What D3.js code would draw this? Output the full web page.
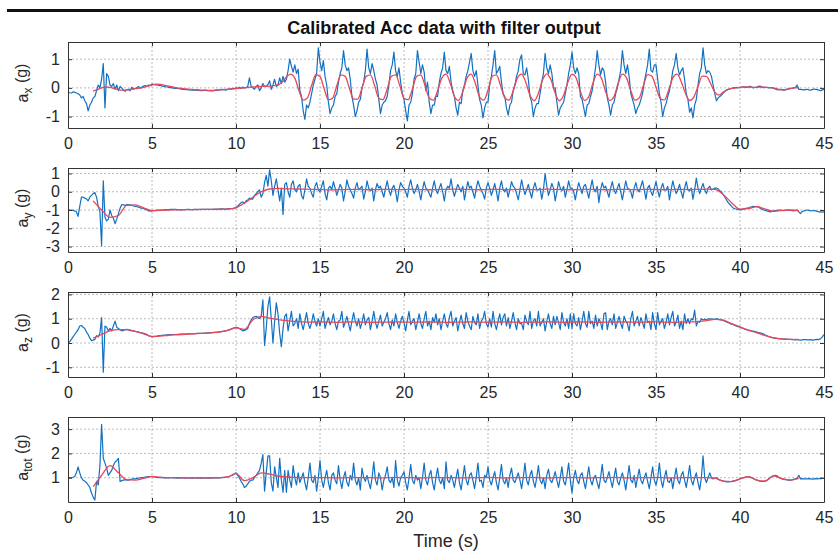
<!DOCTYPE html>
<html>
<head>
<meta charset="utf-8">
<script src="https://cdnjs.cloudflare.com/ajax/libs/d3/7.8.5/d3.min.js"></script>
<style>
body{margin:0;background:#fff;}
text{font-family:"Liberation Sans",Arial,sans-serif;fill:#262626;}
</style>
</head>
<body>
<div id="chart"></div>
<script>
// time base (s): raw samples every 0.1 s, filter output from 1.5 s on
var rawStep = 0.1;
var filtStart = 1.5;
var axFiltStep = 0.25, filtStep = 0.5;

var xTicks = [0, 5, 10, 15, 20, 25, 30, 35, 40, 45];
var axTicks = [-1, 0, 1];
var ayTicks = [-3, -2, -1, 0, 1];
var azTicks = [-1, 0, 1, 2];
var atTicks = [1, 2, 3];

// a_x raw (one row = 1 s)
var axRaw = [
-0.15,-0.17,-0.18,-0.14,-0.15,-0.18,-0.2,-0.25,-0.35,-0.3,
-0.45,-0.55,-0.8,-0.6,-0.5,-0.35,-0.3,-0.1,0.1,0.0,
0.3,0.85,-0.7,0.5,0.4,0.1,0.05,0.15,-0.05,0.1,
-0.1,0.05,0.0,-0.08,-0.12,-0.06,-0.05,-0.1,0.02,-0.04,
-0.02,0.0,0.05,-0.01,0.03,0.06,0.08,0.05,0.1,0.09,
0.13,0.12,0.1,0.11,0.08,0.09,0.06,0.05,0.04,0.03,
0.02,0.01,0.0,-0.01,-0.02,-0.02,-0.03,-0.04,-0.05,-0.05,
-0.06,-0.06,-0.07,-0.07,-0.08,-0.08,-0.08,-0.09,-0.09,-0.1,
-0.1,-0.09,-0.09,-0.1,-0.1,-0.11,-0.11,-0.1,-0.08,-0.09,
-0.07,-0.06,-0.05,-0.06,-0.08,-0.05,-0.03,-0.04,-0.02,-0.03,
0.0,-0.02,0.02,-0.02,0.03,0.0,0.01,0.05,0.35,0.05,
0.0,-0.05,0.05,0.1,-0.1,0.0,0.15,0.05,0.05,0.12,
0.25,-0.05,0.1,0.3,0.05,0.1,0.35,0.15,0.4,0.2,
0.3,0.6,1.0,0.75,0.55,0.8,0.5,0.65,-0.1,-0.3,
-0.8,-1.1,-0.6,-0.7,-0.5,-0.2,0.1,0.3,0.5,1.4,
0.9,0.6,0.95,0.4,0.1,-0.5,-0.9,-0.7,-0.6,-0.3,
-0.2,0.2,0.5,0.7,1.3,0.8,0.6,0.7,0.3,-0.3,
-0.6,-1.0,-0.8,-0.5,-0.4,0.0,0.2,0.6,1.35,0.7,
0.5,0.85,0.6,0.3,0.1,-0.4,-0.9,-0.6,-0.5,-0.45,
-0.3,0.1,0.6,0.8,1.25,0.6,0.4,0.7,0.2,-0.2,
-0.4,-0.8,-1.15,-0.6,-0.5,-0.2,0.3,0.5,1.3,0.9,
0.5,0.8,0.55,-0.1,0.2,-0.5,-0.9,-0.6,-0.6,-0.3,
-0.3,0.2,0.5,0.7,1.25,0.6,0.5,0.75,0.2,-0.1,
-0.3,-0.7,-0.95,-0.5,-0.55,-0.1,0.1,0.4,0.6,0.9,
1.2,0.6,0.4,0.6,0.1,-0.4,-0.6,-1.05,-0.7,-0.5,
-0.5,0.1,0.4,0.8,1.3,0.5,0.6,0.75,0.2,-0.2,
-0.3,-0.7,-0.95,-0.6,-0.5,-0.1,0.1,0.4,0.6,1.0,
1.15,0.5,0.45,0.7,0.3,-0.3,-0.5,-1.0,-0.7,-0.55,
-0.55,-0.2,0.2,0.5,1.2,0.7,0.5,0.8,0.5,0.0,
0.0,-0.5,-0.95,-0.7,-0.6,-0.5,-0.2,0.1,0.5,0.8,
1.25,0.7,0.5,0.7,0.5,-0.3,-0.4,-0.7,-1.0,-0.6,
-0.55,-0.3,-0.1,0.3,0.7,1.3,0.8,0.45,0.7,0.6,
0.2,-0.35,-0.6,-0.95,-0.6,-0.5,-0.2,0.0,0.3,0.6,
1.3,0.8,0.5,0.8,0.4,-0.2,-0.4,-0.6,-0.9,-0.7,
-0.6,-0.4,-0.2,0.2,0.5,0.8,1.35,0.6,0.55,0.8,
0.8,0.3,-0.2,-0.5,-1.0,-0.7,-0.55,-0.3,-0.1,0.2,
0.6,0.8,1.2,0.7,0.45,0.6,0.7,0.3,-0.2,-0.4,
-0.85,-0.7,-1.05,-0.6,-0.4,0.1,0.5,0.7,1.4,0.8,
0.5,0.6,0.55,0.4,0.1,-0.2,-0.45,-0.35,-0.3,-0.25,
-0.18,-0.12,-0.08,-0.06,-0.03,-0.02,0.0,0.01,0.02,0.01,
0.01,0.03,0.04,0.02,0.02,0.04,0.05,0.03,0.0,0.02,
0.03,0.05,0.06,0.03,0.01,0.02,0.02,0.01,0.0,0.01,
-0.02,-0.04,-0.06,-0.07,-0.05,-0.06,-0.08,-0.07,-0.04,-0.03,
-0.02,-0.01,0.0,0.02,0.1,-0.05,-0.05,-0.06,-0.07,-0.06,
-0.05,-0.07,-0.08,-0.06,-0.04,-0.05,-0.06,-0.08,-0.1,-0.07,
-0.05
];

// a_x filter output (one row = 1 s, from 1.5 s)
var axFilt = [
-0.11,-0.06,0.0,0.03,
0.02,-0.02,-0.06,-0.08,
-0.07,-0.05,-0.03,-0.01,
0.02,0.06,0.1,0.13,
0.12,0.09,0.06,0.03,
0.0,-0.02,-0.04,-0.05,
-0.06,-0.07,-0.08,-0.08,
-0.09,-0.08,-0.07,-0.06,
-0.05,-0.04,-0.03,-0.01,
0.0,0.02,0.03,0.04,
0.05,0.05,0.06,0.08,
0.1,0.2,0.38,0.48,
0.34,-0.10,-0.43,-0.35,
0.08,0.46,0.40,-0.04,
-0.41,-0.36,0.08,0.45,
0.40,-0.01,-0.39,-0.39,
-0.01,0.40,0.45,0.08,
-0.36,-0.41,-0.04,0.40,
0.45,0.08,-0.36,-0.41,
-0.04,0.40,0.45,0.08,
-0.35,-0.43,-0.10,0.34,
0.48,0.17,-0.30,-0.44,
-0.13,0.34,0.48,0.15,
-0.32,-0.43,-0.08,0.40,
0.45,0.08,-0.35,-0.43,
-0.10,0.34,0.48,0.19,
-0.26,-0.45,-0.19,0.28,
0.49,0.28,-0.19,-0.45,
-0.26,0.19,0.48,0.34,
-0.13,-0.44,-0.30,0.17,
0.48,0.34,-0.13,-0.44,
-0.30,0.17,0.48,0.34,
-0.10,-0.43,-0.35,0.08,
0.46,0.41,0.02,-0.37,
-0.42,-0.08,0.35,0.48,
0.22,-0.19,-0.44,-0.32,
0.04,0.41,0.40,0.15,
-0.15,-0.25,-0.15,-0.06,
-0.02,0.0,0.02,0.03,
0.03,0.02,0.02,0.03,
0.02,0.01,0.0,-0.04,
-0.07,-0.06,-0.03,0.0,
0.01
];

var ayRaw = [
-1.0,-1.0,-1.0,-1.02,-1.05,-1.1,-1.35,-0.8,-0.3,-0.3,
-0.35,-0.4,-0.5,-0.3,-0.2,-0.1,-0.05,-0.3,-0.8,-1.1,
-2.95,0.6,-1.4,-1.6,-1.5,-1.0,-1.3,-1.45,-1.75,-1.5,
-1.2,-0.9,-0.7,-0.72,-0.75,-0.7,-0.72,-0.7,-0.75,-0.78,
-0.8,-0.82,-0.85,-0.88,-0.9,-0.93,-0.95,-1.0,-1.05,-1.06,
-1.05,-1.04,-1.02,-1.01,-1.0,-1.0,-1.0,-0.99,-0.98,-0.98,
-0.98,-0.97,-0.97,-0.97,-0.97,-0.98,-0.98,-0.99,-0.99,-0.98,
-0.98,-0.97,-0.97,-0.98,-0.98,-0.97,-0.97,-0.96,-0.96,-0.97,
-0.97,-0.96,-0.96,-0.97,-0.97,-0.96,-0.96,-0.95,-0.95,-0.95,
-0.95,-0.94,-0.94,-0.95,-0.95,-0.93,-0.93,-0.92,-0.92,-0.9,
-0.85,-0.8,-0.7,-0.6,-0.55,-0.65,-0.5,-0.45,-0.35,-0.4,
-0.4,-0.2,-0.1,0.0,0.1,-0.3,-0.1,0.5,0.9,0.3,
1.2,0.6,-0.2,0.3,0.7,0.1,-0.5,0.2,-1.25,0.4,
0.5,0.0,-0.3,0.4,0.6,0.1,0.0,0.3,0.4,-0.2,
-0.4,0.1,0.7,0.3,0.2,-0.1,-0.3,0.3,0.5,0.1,
0.0,0.3,0.6,-0.1,-0.45,0.2,0.3,0.1,0.55,0.2,
-0.2,0.1,0.4,0.2,-0.5,0.0,0.65,0.3,0.1,-0.1,
-0.35,0.2,0.5,0.1,0.2,0.3,-0.4,0.0,0.6,0.2,
0.05,0.2,-0.5,0.1,0.45,0.2,0.3,0.0,-0.3,0.2,
0.6,0.1,-0.2,0.2,0.35,0.0,-0.55,0.1,0.5,0.3,
0.2,0.0,-0.3,0.3,0.65,0.2,-0.1,0.1,0.4,0.0,
-0.45,0.1,0.55,0.2,0.1,-0.1,-0.3,0.2,0.6,0.1,
-0.1,0.2,0.45,0.0,-0.5,0.1,0.3,0.2,0.7,0.1,
-0.25,0.1,0.4,0.2,0.0,0.3,-0.45,0.1,0.55,0.2,
0.3,0.0,-0.35,0.2,0.6,0.3,0.1,-0.1,-0.4,0.2,
0.5,0.2,-0.2,0.1,0.45,0.0,-0.5,0.2,0.6,0.1,
0.0,0.2,-0.3,0.1,0.55,0.3,0.2,-0.1,-0.45,0.1,
0.65,0.2,-0.15,0.1,0.4,0.0,-0.35,0.2,0.5,0.1,
0.1,0.2,-0.4,0.1,1.0,0.3,-0.2,0.1,0.45,0.2,
-0.5,0.0,0.55,0.2,0.05,0.3,-0.3,0.1,0.6,0.2,
0.2,0.0,-0.45,0.1,0.5,0.2,-0.1,0.3,0.4,0.0,
-0.35,0.2,0.65,0.1,0.0,0.3,-0.6,0.1,0.5,0.2,
0.3,0.0,-0.3,0.2,0.55,0.1,-0.1,0.2,0.45,0.0,
-0.45,0.1,0.6,0.2,0.15,0.0,-0.35,0.2,0.5,0.1,
0.0,0.3,0.6,0.1,-0.4,0.2,0.35,0.0,-0.2,0.2,
0.55,0.1,-0.3,0.2,0.45,0.1,0.1,0.3,-0.45,0.1,
0.6,0.2,-0.1,0.1,0.4,0.0,-0.35,0.2,0.55,0.1,
0.05,0.2,-0.4,0.1,0.75,0.2,-0.1,0.2,0.45,0.1,
-0.1,0.2,0.3,0.1,0.15,0.2,0.2,0.15,0.05,0.0,
-0.15,-0.3,-0.45,-0.6,-0.7,-0.8,-0.9,-0.93,-0.95,-0.97,
-1.0,-0.98,-0.95,-0.92,-0.9,-0.88,-0.85,-0.82,-0.8,-0.82,
-0.82,-0.85,-0.9,-0.95,-1.0,-1.02,-1.05,-1.08,-1.1,-1.08,
-1.05,-1.03,-1.02,-1.0,-1.0,-1.02,-1.03,-1.02,-1.0,-1.0,
-1.02,-1.03,-1.05,-1.02,-1.0,-1.1,-1.2,-1.08,-1.05,-1.03,
-1.0,-1.02,-1.05,-1.04,-1.03,-1.05,-1.08,-1.1,-1.1,-1.12,
-1.1
];

// one row = 2 s, from 1.5 s
var ayFilt = [
-0.5,-1.0,-1.4,-1.3,
-0.75,-0.72,-0.88,-1.03,
-1.02,-1.0,-0.99,-0.98,
-0.98,-0.97,-0.97,-0.96,
-0.95,-0.88,-0.62,-0.3,
0.0,0.15,0.18,0.16,
0.15,0.14,0.13,0.12,
0.1,0.11,0.12,0.13,
0.12,0.11,0.12,0.13,
0.12,0.12,0.13,0.12,
0.11,0.12,0.13,0.14,
0.13,0.12,0.11,0.12,
0.13,0.12,0.12,0.13,
0.12,0.12,0.14,0.13,
0.12,0.11,0.12,0.13,
0.12,0.11,0.12,0.13,
0.12,0.12,0.13,0.12,
0.11,0.12,0.13,0.12,
0.13,0.14,0.13,-0.15,
-0.6,-0.95,-0.93,-0.82,
-0.95,-1.07,-1.02,-1.0,
-1.03
];

var azRaw = [
0.0,0.05,0.15,0.25,0.35,0.45,0.55,0.7,0.72,0.65,
0.6,0.45,0.35,0.2,0.1,0.12,0.15,0.3,0.25,0.4,
1.05,-1.2,0.7,0.65,0.5,0.6,0.5,0.7,0.9,0.65,
0.6,0.55,0.5,0.52,0.55,0.56,0.54,0.52,0.5,0.5,
0.48,0.47,0.45,0.43,0.42,0.4,0.38,0.35,0.3,0.28,
0.25,0.26,0.27,0.28,0.3,0.31,0.32,0.33,0.33,0.34,
0.34,0.35,0.35,0.35,0.35,0.36,0.36,0.37,0.37,0.37,
0.37,0.38,0.38,0.38,0.38,0.39,0.39,0.4,0.4,0.4,
0.4,0.41,0.41,0.42,0.42,0.43,0.43,0.44,0.44,0.45,
0.46,0.47,0.48,0.49,0.5,0.52,0.55,0.57,0.6,0.62,
0.65,0.63,0.6,0.55,0.5,0.52,0.55,0.6,0.8,0.95,
1.05,1.08,1.1,1.05,1.0,1.1,1.78,-0.1,0.6,1.5,
1.9,1.0,0.0,0.9,1.65,1.2,0.4,-0.15,0.6,1.1,
1.2,0.5,0.9,1.3,0.7,0.8,1.0,0.6,1.2,0.8,
0.55,0.9,1.25,0.8,0.6,0.85,1.2,0.9,0.7,1.0,
0.7,1.0,1.3,0.6,0.85,1.05,0.75,0.9,1.2,0.8,
0.55,0.9,0.95,1.3,0.65,0.85,1.1,0.8,0.5,0.9,
1.25,0.9,0.7,1.0,0.6,0.85,1.2,0.75,0.95,1.05,
0.55,0.9,1.3,0.85,0.6,0.9,1.15,0.7,0.85,1.0,
1.25,0.8,0.55,0.95,0.7,1.2,0.85,0.6,0.9,1.1,
0.85,0.5,0.95,1.3,0.75,0.9,1.0,0.55,0.85,1.2,
0.8,0.6,1.0,1.3,0.7,0.9,0.55,1.05,0.85,1.2,
0.75,1.0,0.55,0.9,1.2,0.8,0.65,1.05,1.3,0.7,
0.9,1.05,0.5,0.85,1.15,0.8,0.6,1.25,0.9,0.7,
0.55,1.1,0.85,0.75,1.2,0.6,0.9,1.0,1.3,0.8,
0.65,1.0,0.65,1.3,0.8,0.55,0.9,1.2,0.75,1.05,
1.2,0.7,1.05,0.6,0.9,1.25,0.85,0.55,1.0,0.8,
0.8,0.55,1.15,0.9,0.75,1.3,0.6,0.9,1.0,0.7,
1.3,0.7,0.85,1.0,0.5,0.9,1.2,0.8,0.6,1.1,
0.75,1.1,0.85,0.55,1.25,0.85,0.7,1.0,0.6,1.2,
0.6,1.2,0.8,0.7,1.05,0.55,0.9,1.3,0.8,0.65,
1.3,0.8,0.9,0.6,1.15,0.7,1.0,0.85,0.55,1.2,
1.25,0.55,0.9,1.0,0.75,1.2,0.6,0.85,1.1,0.8,
0.6,1.1,0.9,0.8,0.5,1.0,1.3,0.7,0.9,1.1,
0.7,1.05,0.85,0.6,1.2,0.85,0.9,0.55,1.25,0.8,
0.55,1.25,0.75,0.9,1.0,0.6,0.85,1.2,0.75,1.05,
1.3,0.7,0.85,1.15,0.6,0.9,0.55,1.2,0.8,1.0,
0.8,1.0,0.95,1.35,0.7,0.9,0.85,1.0,0.95,0.98,
0.95,1.0,0.98,1.0,0.97,0.98,1.0,0.98,0.96,0.95,
0.93,0.9,0.87,0.84,0.8,0.78,0.75,0.72,0.69,0.67,
0.65,0.62,0.6,0.57,0.55,0.53,0.52,0.5,0.49,0.47,
0.45,0.43,0.42,0.4,0.37,0.33,0.3,0.27,0.24,0.22,
0.21,0.2,0.19,0.18,0.17,0.17,0.16,0.16,0.15,0.15,
0.15,0.14,0.14,0.13,0.15,0.13,0.12,0.13,0.14,0.14,
0.13,0.13,0.14,0.12,0.13,0.14,0.15,0.14,0.18,0.25,
0.35
];

var azFilt = [
0.2,0.35,0.5,0.55,
0.55,0.48,0.38,0.27,
0.28,0.32,0.34,0.36,
0.38,0.4,0.42,0.45,
0.52,0.62,0.56,0.95,
1.1,1.02,0.96,0.92,
0.89,0.87,0.86,0.87,
0.86,0.85,0.86,0.87,
0.86,0.85,0.86,0.86,
0.87,0.86,0.85,0.86,
0.87,0.86,0.85,0.86,
0.86,0.87,0.86,0.85,
0.86,0.87,0.86,0.85,
0.86,0.86,0.87,0.86,
0.85,0.86,0.87,0.86,
0.85,0.86,0.86,0.87,
0.86,0.85,0.86,0.87,
0.86,0.85,0.86,0.87,
0.88,0.92,0.97,0.94,
0.8,0.66,0.52,0.42,
0.3,0.21,0.17,0.15,
0.14
];

var atRaw = [
1.0,1.0,1.0,1.02,1.05,1.2,1.45,1.2,1.0,0.9,
0.85,0.8,0.7,0.6,0.37,0.2,0.08,0.85,0.7,1.5,
3.2,1.8,1.6,1.4,1.1,1.2,1.3,1.5,1.65,1.7,
1.8,0.85,0.88,0.9,0.92,0.9,0.9,0.92,0.94,0.95,
0.95,0.97,0.98,1.0,1.0,1.02,1.03,1.04,1.05,1.05,
1.05,1.04,1.02,1.01,1.0,1.0,1.0,0.99,0.99,0.99,
0.99,1.0,1.0,0.99,0.99,0.98,0.98,0.99,0.99,0.99,
0.98,0.99,0.99,0.98,0.98,0.99,0.99,0.98,0.98,0.99,
0.98,0.99,0.99,0.98,0.98,0.98,0.99,0.99,0.99,1.0,
0.99,1.0,1.0,1.01,1.02,1.03,1.05,1.08,1.1,1.15,
1.2,1.1,1.0,0.85,0.75,0.6,0.65,0.75,0.85,0.9,
0.9,1.0,1.1,1.2,1.3,1.6,1.95,0.45,1.2,1.9,
1.9,0.8,0.45,1.45,1.0,0.6,1.8,0.9,0.4,1.3,
0.4,1.3,0.9,0.6,1.5,1.0,0.7,1.2,0.8,1.0,
1.2,0.8,0.5,1.0,1.6,0.9,0.8,1.1,0.45,1.0,
1.7,0.9,0.6,1.0,1.3,0.8,0.5,1.1,1.2,0.9,
0.75,1.5,0.9,0.55,1.0,1.25,0.8,0.65,1.1,0.9,
1.6,0.9,0.7,1.0,0.5,1.4,1.0,0.85,1.1,0.8,
0.55,1.0,1.65,0.9,0.7,1.2,1.0,0.5,0.9,1.1,
1.45,0.9,0.8,1.0,0.6,1.7,0.9,0.65,1.0,1.1,
1.25,0.8,0.5,1.0,1.55,0.9,0.75,1.1,0.9,1.0,
0.55,1.0,1.6,0.9,0.7,1.1,1.3,0.8,0.5,1.0,
1.4,0.9,0.75,1.0,0.55,1.65,0.9,0.8,1.1,0.9,
0.6,1.0,1.35,0.8,0.5,1.0,1.5,0.9,0.7,1.1,
1.2,0.9,0.55,1.0,1.6,0.85,0.9,0.6,1.1,1.0,
1.45,0.9,0.7,1.0,1.25,0.8,0.5,1.0,1.55,0.9,
0.75,1.0,0.6,1.1,1.4,0.9,0.8,1.0,1.2,0.9,
0.55,1.0,1.6,0.9,0.7,1.1,1.3,0.85,0.6,1.0,
1.5,0.9,0.75,1.0,0.55,1.1,1.35,0.9,0.8,1.0,
1.25,0.9,0.6,1.0,1.45,0.85,0.7,1.1,1.6,0.9,
0.37,1.0,1.3,0.9,0.75,1.1,1.2,0.85,0.55,1.0,
1.45,0.9,0.7,1.0,1.1,0.8,0.55,1.0,1.55,0.9,
0.8,1.0,1.25,0.9,0.6,1.0,1.4,0.85,0.7,1.0,
1.2,0.9,0.5,1.0,1.5,0.9,0.8,1.1,0.6,1.0,
1.35,0.9,0.75,1.0,1.2,0.85,0.55,1.0,1.45,0.9,
0.7,1.0,1.6,0.9,0.6,1.0,1.3,0.85,0.8,1.0,
0.55,1.0,1.4,0.9,0.75,1.1,1.25,0.9,0.6,1.0,
1.5,0.9,0.7,1.0,1.2,0.8,0.5,1.0,1.9,1.0,
0.8,1.0,1.2,1.0,0.95,0.98,1.0,0.95,0.9,0.88,
0.86,0.85,0.83,0.83,0.84,0.85,0.87,0.88,0.9,0.92,
0.96,0.98,1.0,1.02,1.04,1.04,1.03,1.0,0.96,0.93,
0.9,0.88,0.86,0.85,0.85,0.86,0.9,0.95,1.0,1.05,
1.08,1.1,1.08,1.02,0.98,0.95,0.93,0.92,0.91,0.9,
0.9,0.91,0.93,0.95,0.97,1.1,0.95,0.96,0.95,0.95,
0.95,0.96,0.95,0.94,0.95,0.96,0.95,0.96,0.96,0.97,
0.97
];

var atFilt = [
0.63,1.1,1.5,1.2,
0.92,0.9,0.97,1.05,
1.02,1.0,1.0,0.99,
0.99,0.99,0.99,1.0,
1.03,1.18,0.88,1.0,
1.2,1.15,1.07,1.03,
1.01,1.0,1.01,1.0,
1.0,0.99,1.0,1.01,
1.0,1.0,0.99,1.0,
1.01,1.0,1.0,0.99,
1.0,1.01,1.0,1.0,
0.99,1.0,1.0,1.01,
1.0,0.99,1.0,1.0,
1.01,1.0,0.99,1.0,
1.0,1.01,1.0,0.99,
1.0,1.0,1.01,1.0,
0.99,1.0,1.0,1.01,
1.0,0.99,1.0,1.0,
1.0,1.0,0.98,0.86,
0.84,0.95,1.04,0.9,
0.86,1.08,0.96,0.9,
0.97
];

var panels = [
  {raw: axRaw, filt: axFilt, fstep: axFiltStep, domain: [-1.4, 1.6], ticks: axTicks, sub: "x", top: 42, bottom: 128},
  {raw: ayRaw, filt: ayFilt, fstep: filtStep, domain: [-3.3, 1.3], ticks: ayTicks, sub: "y", top: 168, bottom: 252},
  {raw: azRaw, filt: azFilt, fstep: filtStep, domain: [-1.4, 2.1], ticks: azTicks, sub: "z", top: 292, bottom: 377},
  {raw: atRaw, filt: atFilt, fstep: filtStep, domain: [0, 3.5], ticks: atTicks, sub: "tot", top: 417, bottom: 502}
];

var width = 838, height = 554;
var left = 68, right = 824;

var svg = d3.select("#chart")
  .append("svg")
    .attr("width", width)
    .attr("height", height);

// heavy rule across the top
svg.append("rect")
  .attr("x", 7).attr("y", 9)
  .attr("width", width - 7).attr("height", 3)
  .attr("fill", "#111");

svg.append("text")
  .attr("x", 444).attr("y", 34)
  .attr("text-anchor", "middle")
  .style("font-size", "18px")
  .style("font-weight", "bold")
  .style("fill", "#111")
  .text("Calibrated Acc data with filter output");

var x = d3.scaleLinear().domain([0, 45]).range([left, right]);

panels.forEach(function(p, k){
  var y = d3.scaleLinear().domain(p.domain).range([p.bottom, p.top]);
  var g = svg.append("g");

  // grid
  g.selectAll(".vg").data(xTicks.slice(1, -1)).enter().append("line")
    .attr("x1", function(d){ return x(d); }).attr("x2", function(d){ return x(d); })
    .attr("y1", p.top).attr("y2", p.bottom)
    .attr("stroke", "#aaa").attr("stroke-width", 0.8)
    .attr("stroke-dasharray", "2,2");
  g.selectAll(".hg").data(p.ticks).enter().append("line")
    .attr("x1", left).attr("x2", right)
    .attr("y1", function(d){ return y(d); }).attr("y2", function(d){ return y(d); })
    .attr("stroke", "#aaa").attr("stroke-width", 0.8)
    .attr("stroke-dasharray", "2,2");

  var clipId = "clip" + k;
  svg.append("clipPath").attr("id", clipId)
    .append("rect")
      .attr("x", left).attr("y", p.top)
      .attr("width", right - left).attr("height", p.bottom - p.top);

  var rawLine = d3.line()
    .x(function(d, i){ return x(i * rawStep); })
    .y(function(d){ return y(d); });

  var filtLine = d3.line()
    .x(function(d, i){ return x(filtStart + i * p.fstep); })
    .y(function(d){ return y(d); })
    .curve(d3.curveMonotoneX);

  g.append("path")
    .datum(p.raw)
    .attr("clip-path", "url(#" + clipId + ")")
    .attr("d", rawLine)
    .attr("fill", "none")
    .attr("stroke", "#1271c2")
    .attr("stroke-width", 1.2)
    .attr("stroke-linejoin", "round");

  g.append("path")
    .datum(p.filt)
    .attr("clip-path", "url(#" + clipId + ")")
    .attr("d", filtLine)
    .attr("fill", "none")
    .attr("stroke", "#e8475a")
    .attr("stroke-width", 1.3);

  // box with inward ticks on all sides
  var fmt = function(d){ return String(d); };
  g.append("g")
    .attr("transform", "translate(0," + p.bottom + ")")
    .call(d3.axisBottom(x).tickValues(xTicks).tickSizeInner(-4).tickSizeOuter(0).tickPadding(10).tickFormat(fmt));
  g.append("g")
    .attr("transform", "translate(0," + p.top + ")")
    .call(d3.axisTop(x).tickValues(xTicks).tickSizeInner(-4).tickSizeOuter(0).tickFormat(""));
  g.append("g")
    .attr("transform", "translate(" + left + ",0)")
    .call(d3.axisLeft(y).tickValues(p.ticks).tickSizeInner(-4).tickSizeOuter(0).tickPadding(8).tickFormat(fmt));
  g.append("g")
    .attr("transform", "translate(" + right + ",0)")
    .call(d3.axisRight(y).tickValues(p.ticks).tickSizeInner(-4).tickSizeOuter(0).tickFormat(""));

  g.selectAll(".domain").attr("stroke", "#333");
  g.selectAll(".tick line").attr("stroke", "#333");
  g.selectAll(".tick text")
    .style("font-size", "16px")
    .style("font-family", "'Liberation Sans', Arial, sans-serif")
    .attr("fill", "#262626");

  // y label with subscript
  var lab = svg.append("text")
    .attr("transform", "translate(28," + ((p.top + p.bottom) / 2 - 2) + ") rotate(-90)")
    .attr("text-anchor", "middle")
    .style("font-size", "16px");
  lab.append("tspan").text("a");
  lab.append("tspan").attr("dy", "0.35em").style("font-size", "12px").text(p.sub);
  lab.append("tspan").attr("dy", "-0.35em").text(" (g)");
});

svg.append("text")
  .attr("x", 446).attr("y", 547)
  .attr("text-anchor", "middle")
  .style("font-size", "18px")
  .text("Time (s)");
</script>
</body>
</html>
